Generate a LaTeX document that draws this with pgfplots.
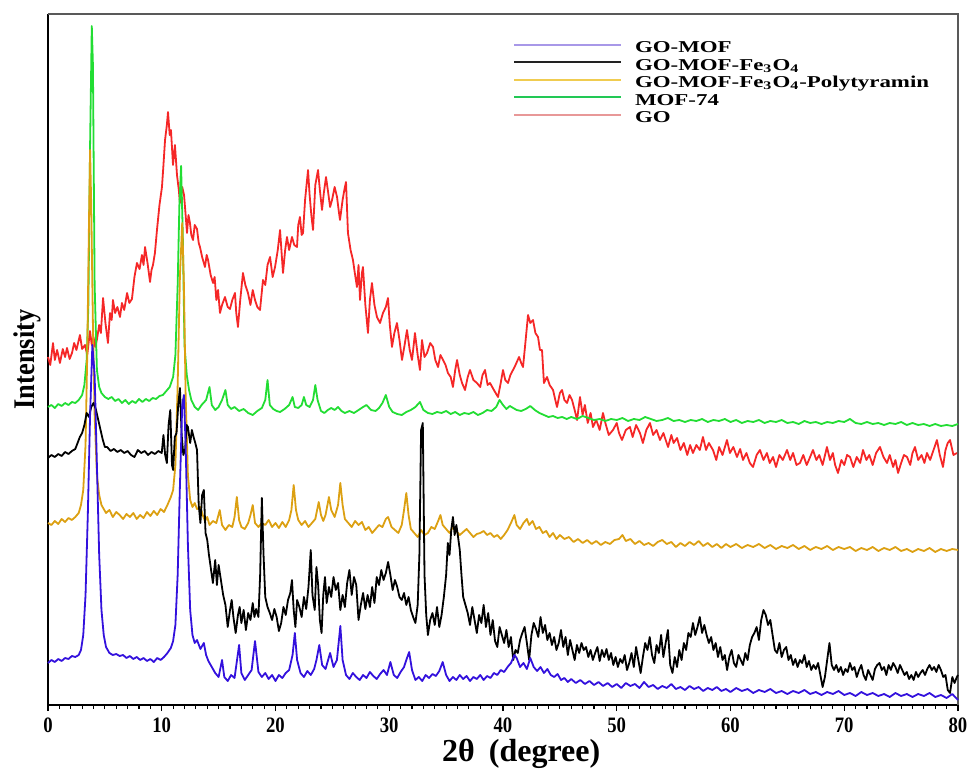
\documentclass[border=0pt]{standalone}
\usepackage{fontspec}
\setmainfont{Liberation Serif}
\newfontfamily\condfont{Liberation Serif}[FakeStretch=0.85]
\newfontfamily\ylfont{Liberation Serif}[FakeStretch=0.88]
\newfontfamily\legfont{Liberation Serif}[FakeStretch=1.38]
\usepackage{pgfplots}
\pgfplotsset{compat=1.18}
\definecolor{cblue}{HTML}{3311DD}
\definecolor{corange}{HTML}{DCA012}
\definecolor{cgreen}{HTML}{22DD33}
\definecolor{cred}{HTML}{F52727}
\definecolor{lblue}{HTML}{A898E8}
\definecolor{lblack}{HTML}{222222}
\definecolor{lorange}{HTML}{F0CC50}
\definecolor{lgreen}{HTML}{22C855}
\definecolor{lred}{HTML}{E89898}
\begin{document}
\begin{tikzpicture}
\path[use as bounding box] (-24pt,-33pt) rectangle (460.5pt,352.5pt);
\begin{axis}[
 scale only axis, width=455pt, height=345.5pt,
 xmin=0, xmax=80, ymin=0, ymax=691,
 clip=false,
 axis x line*=bottom, axis y line*=left,
 axis line style={black, line width=1pt},
 xtick={0,10,...,80}, minor x tick num=9, ytick=\empty,
 tick align=outside, major tick length=3pt, minor tick length=2pt,
 tick style={black, line width=0.6pt},
 xticklabel style={font=\condfont\bfseries\fontsize{11}{11}\selectfont},
 /pgf/number format/assume math mode=true,
 xlabel={2θ\hspace{7pt}(degree)}, ylabel={Intensity},
 xlabel style={font=\bfseries\fontsize{16}{16}\selectfont, at={(axis description cs:0.52,-0.07)}, anchor=center},
 ylabel style={font=\ylfont\bfseries\fontsize{15}{15}\selectfont, at={(axis description cs:-0.023,0.5)}, anchor=center},
 every axis plot/.append style={line join=round, line width=0.9pt},
 legend style={at={(0.511,0.9615)}, anchor=north west, draw=none, fill=none, inner sep=0pt, outer sep=0pt, row sep=0pt, column sep=6.5pt, font=\legfont\bfseries\fontsize{8.3}{8.3}\selectfont, nodes={inner sep=0pt, text height=6pt, text depth=2.75pt}, cells={anchor=west}},
 legend image code/.code={\draw[#1,line width=1pt] (0pt,2.2pt) -- (53.5pt,2.2pt);},
]
\draw[gray!70!black, line width=0.6pt] (rel axis cs:0,1) -- (rel axis cs:1,1) -- (rel axis cs:1,0);
% GO (red)
\addplot[cred, forget plot] table {
0 348
0.2 340
0.44 362
0.6 345
0.8 355
1.05 342
1.3 356
1.5 348
1.67 357
1.9 346
2.11 352
2.3 362
2.5 355
2.81 370
3.0 356
3.25 360
3.45 350
3.69 374
3.85 360
4.0 368
4.15 358
4.31 366
4.5 380
4.65 372
4.84 407
5.05 382
5.27 362
5.45 392
5.6 385
5.71 405
5.9 392
6.1 398
6.33 388
6.5 402
6.7 395
6.95 412
7.15 402
7.38 406
7.6 428
7.82 442
8.05 436
8.26 450
8.4 440
8.53 458
8.75 442
8.97 423
9.1 435
9.23 440
9.4 452
9.58 475
9.8 500
10.02 518
10.15 540
10.29 565
10.45 580
10.55 593
10.7 570
10.81 575
10.99 540
11.16 560
11.34 530
11.5 515
11.6 502
11.8 518
11.96 510
12.1 490
12.22 472
12.35 490
12.48 482
12.6 470
12.75 465
12.9 480
13.1 476
13.25 462
13.36 458
13.55 448
13.8 438
13.95 450
14.07 445
14.3 430
14.51 422
14.65 428
14.8 405
14.95 415
15.12 392
15.3 400
15.56 408
15.8 398
16.0 396
16.2 405
16.44 412
16.55 392
16.7 378
16.9 405
17.14 432
17.35 420
17.58 412
17.8 400
18.0 415
18.2 405
18.4 398
18.64 395
18.9 425
19.1 420
19.3 440
19.52 448
19.75 428
19.96 438
20.2 455
20.4 475
20.55 450
20.66 432
20.85 455
21.01 468
21.2 455
21.45 468
21.65 460
21.89 458
22.0 480
22.15 488
22.3 470
22.42 472
22.6 505
22.86 535
23.0 510
23.15 490
23.3 475
23.5 520
23.74 535
23.9 515
24.09 495
24.25 512
24.44 528
24.6 515
24.8 498
24.97 505
25.2 518
25.41 508
25.55 495
25.67 485
25.9 505
26.05 515
26.2 523
26.37 472
26.6 455
26.81 445
27.0 430
27.16 418
27.3 440
27.43 405
27.6 432
27.69 438
27.9 400
28.13 372
28.3 405
28.48 422
28.7 400
28.92 388
29.19 382
29.45 392
29.7 398
29.89 407
30.05 380
30.24 358
30.45 372
30.68 382
30.9 365
31.12 345
31.35 360
31.56 375
31.8 355
32.0 345
32.15 360
32.26 372
32.5 350
32.7 335
32.88 365
33.1 348
33.32 352
33.6 362
33.85 358
34.05 345
34.29 338
34.5 350
34.73 345
34.95 340
35.16 332
35.4 328
35.6 318
35.8 335
35.96 345
36.2 330
36.4 322
36.66 315
36.9 328
37.1 335
37.4 325
37.71 322
38.0 318
38.2 330
38.42 335
38.65 320
38.86 322
39.2 315
39.56 308
39.8 322
40.0 335
40.2 325
40.44 322
40.65 330
40.88 335
41.1 340
41.41 348
41.6 342
41.76 338
41.95 360
42.2 390
42.4 382
42.64 385
42.85 372
43.08 368
43.25 355
43.43 355
43.6 322
43.87 328
44.1 320
44.4 315
44.6 305
44.75 298
45.0 312
45.19 315
45.4 305
45.63 302
45.85 310
46.07 305
46.3 295
46.51 285
46.77 308
47.0 290
47.2 300
47.45 282
47.7 292
47.91 278
48.2 285
48.5 275
48.79 292
49.0 282
49.3 270
49.67 275
50.0 282
50.2 272
50.46 265
50.8 275
51.16 278
51.4 268
51.7 280
52.04 272
52.3 262
52.6 275
52.92 282
53.2 270
53.5 275
53.8 265
54.1 272
54.51 258
54.8 270
55.0 262
55.3 267
55.6 255
55.9 262
56.2 250
56.45 260
56.7 252
57.0 260
57.3 255
57.58 268
57.85 255
58.1 262
58.46 255
58.75 245
59.0 258
59.3 250
59.69 265
59.95 252
60.25 258
60.57 248
60.85 256
61.1 245
61.4 252
61.7 242
61.98 238
62.3 250
62.59 255
62.9 245
63.2 252
63.45 242
63.74 248
64.0 238
64.3 250
64.6 245
64.97 255
65.25 245
65.5 252
65.8 240
66.11 242
66.4 250
66.7 240
67.0 248
67.25 255
67.55 245
67.8 250
68.1 240
68.48 258
68.75 245
69.0 252
69.2 240
69.45 232
69.75 245
70.0 240
70.25 250
70.51 248
70.8 238
71.1 248
71.4 242
71.65 255
71.95 245
72.2 250
72.5 240
72.8 252
73.14 258
73.45 248
73.76 242
74.0 250
74.3 238
74.5 245
74.73 232
75.0 242
75.25 250
75.52 248
75.8 240
76.0 252
76.22 258
76.5 245
76.8 250
77.05 242
77.27 252
77.55 245
77.85 255
78.15 265
78.4 250
78.68 238
78.9 255
79.1 262
79.3 265
79.6 250
79.91 252
};
% MOF-74 (green)
\addplot[cgreen, forget plot] table {
0 298
0.3 300
0.6 297
0.9 301
1.2 299
1.5 302
1.8 300
2.1 303
2.4 302
2.7 305
3.0 310
3.2 320
3.4 345
3.55 400
3.7 560
3.85 679
3.95 640
4.1 420
4.3 335
4.5 318
4.7 312
5.0 308
5.3 306
5.6 308
5.9 304
6.2 306
6.5 302
6.8 305
7.1 301
7.4 304
7.7 302
8.0 306
8.3 303
8.6 306
8.9 304
9.2 307
9.5 306
9.8 309
10.1 310
10.4 314
10.7 318
11.0 328
11.2 350
11.4 420
11.55 500
11.7 539
11.85 470
12.0 360
12.2 330
12.4 315
12.6 305
12.9 298
13.2 295
13.5 300
13.9 305
14.2 318
14.4 300
14.7 295
15.0 298
15.3 305
15.6 315
15.8 300
16.1 296
16.4 298
16.8 294
17.2 296
17.6 292
18.0 290
18.4 294
18.8 297
19.1 305
19.3 325
19.5 300
19.8 296
20.1 294
20.4 293
20.8 296
21.2 300
21.5 308
21.7 298
22.0 297
22.3 300
22.5 308
22.7 300
23.0 298
23.3 305
23.5 320
23.7 305
24.0 294
24.3 292
24.6 295
24.9 297
25.2 295
25.5 298
25.8 294
26.1 292
26.5 294
26.9 292
27.3 295
27.7 298
28.0 300
28.4 295
28.8 294
29.1 297
29.4 302
29.7 310
30.0 298
30.3 293
30.7 291
31.1 290
31.5 293
31.9 295
32.3 298
32.7 303
33.0 295
33.4 292
33.8 291
34.2 293
34.6 292
35.0 294
35.4 291
35.8 293
36.2 290
36.6 292
37.0 291
37.4 293
37.8 290
38.2 292
38.6 295
39.0 294
39.4 298
39.7 305
40.0 300
40.3 296
40.6 299
40.9 297
41.2 295
41.6 294
42.0 296
42.4 299
42.8 295
43.2 292
43.6 290
44.0 288
44.4 289
44.8 287
45.2 288
45.6 286
46.0 288
46.5 286
47.0 289
47.5 287
48.0 285
48.5 286
49.0 284
49.5 286
50.0 285
50.5 287
51.0 284
51.5 286
52.0 285
52.5 288
53.0 286
53.5 284
54.0 285
54.5 287
55.0 284
55.5 285
56.0 283
56.5 285
57.0 284
57.5 286
58.0 283
58.5 285
59.0 284
59.5 286
60.0 283
60.5 285
61.0 282
61.5 284
62.0 283
62.5 285
63.0 282
63.5 284
64.0 283
64.5 285
65.0 282
65.5 283
66.0 281
66.5 284
67.0 282
67.5 283
68.0 281
68.5 283
69.0 282
69.5 284
70.0 283
70.5 286
71.0 282
71.5 281
72.0 283
72.5 281
73.0 282
73.5 280
74.0 282
74.5 281
75.0 283
75.5 280
76.0 282
76.5 280
77.0 281
77.5 279
78.0 281
78.5 279
79.0 280
79.5 279
80 281
};
% GO-MOF-Fe3O4-Polytyramin (orange)
\addplot[corange, forget plot] table {
0 182
0.3 180
0.6 184
0.9 181
1.2 186
1.5 183
1.8 187
2.1 185
2.4 188
2.7 192
2.9 200
3.1 215
3.3 260
3.45 350
3.6 480
3.7 555
3.8 500
3.95 380
4.1 290
4.3 230
4.5 210
4.7 200
4.9 196
5.1 192
5.4 195
5.7 188
6.0 193
6.3 190
6.6 186
6.9 191
7.2 188
7.5 192
7.8 186
8.1 190
8.4 187
8.7 193
9.0 189
9.3 194
9.6 190
9.9 196
10.2 193
10.5 200
10.8 208
11.0 215
11.2 240
11.4 320
11.6 430
11.8 482
11.95 420
12.1 310
12.3 230
12.5 205
12.7 198
12.9 202
13.1 196
13.4 198
13.6 190
13.8 184
14.0 188
14.2 180
14.5 184
14.8 182
15.1 195
15.3 180
15.6 175
15.9 180
16.2 178
16.4 188
16.6 208
16.8 185
17.0 178
17.3 176
17.6 182
17.8 190
18.0 200
18.2 182
18.5 178
18.8 182
19.1 180
19.4 185
19.7 178
20.0 182
20.3 177
20.6 183
20.9 178
21.2 185
21.4 195
21.6 220
21.8 195
22.0 185
22.3 180
22.6 184
22.9 178
23.2 182
23.5 186
23.8 203
24.0 190
24.2 184
24.4 190
24.7 208
24.9 195
25.2 188
25.5 200
25.7 222
25.9 200
26.1 186
26.4 182
26.7 178
27.0 184
27.3 180
27.6 183
27.9 175
28.2 178
28.5 172
28.8 176
29.1 180
29.4 178
29.7 186
29.9 188
30.2 178
30.5 175
30.8 172
31.1 180
31.3 195
31.5 212
31.7 190
31.9 176
32.2 172
32.5 168
32.8 175
33.1 170
33.4 172
33.7 178
34.0 176
34.3 184
34.5 190
34.7 180
35.0 176
35.3 172
35.6 178
35.9 174
36.2 170
36.5 173
36.8 176
37.1 172
37.4 168
37.7 171
38.0 172
38.3 174
38.6 170
38.9 172
39.2 168
39.5 170
39.8 166
40.1 170
40.4 175
40.7 182
41.0 190
41.2 180
41.5 176
41.8 182
42.1 186
42.3 180
42.6 184
42.9 176
43.2 178
43.5 172
43.8 174
44.1 168
44.4 172
44.7 166
45.0 170
45.4 166
45.8 168
46.2 163
46.6 166
47.0 162
47.4 165
47.8 161
48.2 164
48.6 160
49.0 163
49.4 161
49.8 165
50.2 166
50.5 170
50.8 164
51.2 166
51.6 161
52.0 164
52.4 160
52.8 162
53.2 159
53.6 163
54.0 165
54.4 161
54.8 163
55.2 158
55.6 162
56.0 159
56.4 163
56.8 160
57.2 164
57.6 159
58.0 162
58.4 158
58.8 161
59.2 157
59.6 161
60.0 158
60.5 161
61.0 157
61.5 160
62.0 158
62.5 161
63.0 157
63.5 160
64.0 156
64.5 159
65.0 157
65.5 160
66.0 156
66.5 159
67.0 155
67.5 158
68.0 156
68.5 159
69.0 155
69.5 158
70.0 156
70.5 158
71.0 154
71.5 157
72.0 155
72.5 158
73.0 154
73.5 157
74.0 155
74.5 158
75.0 154
75.5 156
76.0 153
76.5 156
77.0 154
77.5 157
78.0 153
78.5 156
79.0 154
79.5 156
80 155
};
% GO-MOF-Fe3O4 (black)
\addplot[black, forget plot] table {
0 247
0.3 250
0.6 248
0.9 251
1.2 249
1.5 253
1.8 251
2.1 254
2.4 256
2.6 262
2.8 268
3.0 272
3.2 280
3.4 292
3.6 288
3.8 298
4.0 302
4.2 296
4.4 286
4.6 276
4.8 266
5.0 258
5.2 258
5.5 254
5.8 256
6.1 253
6.4 255
6.7 252
7.0 254
7.3 250
7.6 248
7.9 255
8.2 252
8.5 254
8.8 250
9.1 253
9.4 251
9.7 254
10.0 252
10.15 270
10.3 250
10.45 242
10.6 280
10.75 295
10.9 240
11.0 235
11.15 268
11.3 272
11.45 300
11.6 317
11.75 270
11.9 250
12.05 255
12.2 280
12.3 278
12.5 262
12.65 275
12.8 268
12.95 262
13.1 255
13.25 200
13.4 182
13.55 210
13.7 215
13.85 172
14.0 165
14.15 150
14.3 138
14.5 122
14.7 145
14.85 120
15.0 140
15.2 125
15.4 110
15.6 100
15.8 78
16.0 95
16.15 105
16.3 88
16.5 72
16.7 90
16.85 98
17.0 82
17.2 95
17.4 75
17.6 92
17.8 85
18.0 102
18.15 88
18.3 96
18.5 88
18.65 130
18.8 207
18.95 150
19.1 108
19.3 98
19.5 92
19.7 85
19.9 96
20.1 88
20.3 74
20.5 82
20.7 98
20.9 90
21.1 105
21.3 112
21.45 125
21.6 95
21.75 78
21.9 105
22.1 98
22.3 88
22.5 108
22.7 96
22.9 118
23.1 155
23.25 110
23.45 95
23.6 138
23.75 120
23.9 85
24.05 72
24.2 110
24.35 128
24.5 102
24.7 118
24.9 108
25.1 128
25.3 115
25.5 122
25.7 95
25.9 110
26.1 98
26.3 122
26.5 135
26.7 110
26.9 128
27.1 120
27.3 85
27.5 100
27.7 112
27.9 96
28.1 110
28.3 98
28.5 118
28.7 102
28.9 128
29.1 120
29.3 135
29.5 125
29.7 132
29.9 143
30.1 130
30.3 115
30.5 125
30.7 118
30.9 108
31.1 105
31.3 112
31.5 100
31.7 108
31.9 95
32.1 88
32.3 82
32.5 100
32.65 150
32.8 275
32.95 282
33.1 130
33.25 90
33.4 70
33.6 85
33.8 92
34.0 80
34.2 98
34.4 78
34.6 90
34.8 108
35.0 130
35.15 162
35.3 150
35.45 175
35.6 188
35.75 170
35.9 180
36.05 168
36.2 155
36.35 130
36.5 108
36.7 100
36.9 92
37.1 80
37.3 98
37.5 85
37.7 72
37.9 90
38.1 82
38.3 100
38.5 78
38.7 92
38.9 70
39.1 85
39.3 64
39.5 58
39.7 78
39.9 70
40.1 62
40.3 75
40.5 58
40.7 68
40.9 45
41.1 55
41.3 52
41.5 65
41.7 72
41.9 78
42.1 62
42.3 45
42.5 70
42.7 82
42.9 76
43.1 68
43.3 88
43.5 72
43.7 80
43.9 65
44.1 72
44.3 60
44.5 68
44.7 55
44.9 62
45.1 75
45.3 58
45.5 68
45.7 50
45.9 65
46.1 55
46.3 45
46.5 60
46.7 52
46.9 62
47.1 55
47.3 58
47.5 48
47.7 55
47.9 45
48.1 52
48.3 58
48.5 44
48.7 55
48.9 48
49.1 56
49.3 45
49.5 52
49.7 40
49.9 48
50.1 38
50.3 46
50.5 42
50.7 50
50.9 35
51.1 42
51.3 52
51.5 38
51.7 58
51.9 45
52.1 32
52.3 48
52.5 62
52.7 55
52.9 68
53.1 50
53.3 42
53.5 60
53.7 52
53.9 70
54.1 48
54.3 62
54.5 75
54.7 40
54.9 32
55.1 48
55.3 38
55.5 55
55.7 45
55.9 62
56.1 55
56.3 72
56.5 68
56.7 82
56.9 70
57.1 78
57.3 88
57.5 72
57.7 80
57.9 70
58.1 62
58.3 68
58.5 55
58.7 62
58.9 48
59.1 58
59.3 45
59.5 50
59.7 35
59.9 48
60.1 55
60.3 42
60.5 38
60.7 50
60.9 45
61.1 40
61.3 52
61.5 45
61.7 60
61.9 68
62.1 72
62.3 78
62.5 65
62.7 85
62.9 95
63.1 90
63.3 80
63.5 85
63.7 70
63.9 55
64.1 52
64.3 62
64.5 48
64.7 55
64.9 58
65.1 45
65.3 50
65.5 40
65.7 46
65.9 38
66.1 45
66.3 42
66.5 50
66.7 38
66.9 44
67.1 35
67.3 40
67.5 36
67.7 42
67.9 30
68.1 18
68.3 28
68.5 45
68.7 62
68.9 40
69.1 35
69.3 40
69.5 33
69.7 38
69.9 30
70.1 36
70.3 33
70.5 42
70.7 35
70.9 38
71.1 28
71.3 35
71.5 40
71.7 30
71.9 25
72.1 35
72.3 30
72.5 25
72.7 36
72.9 40
73.1 42
73.3 35
73.5 38
73.7 30
73.9 40
74.1 35
74.3 42
74.5 38
74.7 32
74.9 40
75.1 35
75.3 30
75.5 33
75.7 26
75.9 30
76.1 25
76.3 33
76.5 28
76.7 32
76.9 35
77.1 30
77.3 36
77.5 40
77.7 35
77.9 38
78.1 33
78.3 40
78.5 35
78.7 28
78.9 30
79.1 15
79.3 12
79.5 28
79.7 22
79.9 28
80 30
};
% GO-MOF (blue)
\addplot[cblue, forget plot] table {
0 42
0.3 45
0.6 43
0.9 46
1.2 44
1.5 47
1.8 46
2.1 49
2.4 48
2.7 50
2.9 55
3.1 70
3.3 110
3.5 190
3.7 290
3.9 360
4.1 330
4.3 240
4.5 150
4.7 95
4.9 70
5.1 58
5.4 52
5.7 50
6.0 51
6.3 49
6.6 50
6.9 47
7.2 49
7.5 46
7.8 48
8.1 45
8.4 47
8.7 44
9.0 46
9.3 43
9.6 47
9.9 45
10.2 48
10.5 52
10.8 57
11.0 64
11.2 80
11.4 130
11.6 220
11.8 300
11.95 310
12.1 260
12.3 160
12.5 95
12.7 70
12.9 62
13.1 65
13.4 56
13.7 62
13.9 50
14.1 44
14.4 38
14.7 32
15.0 28
15.3 45
15.5 28
15.8 24
16.1 30
16.4 27
16.8 60
17.0 32
17.3 25
17.6 30
17.9 35
18.2 64
18.5 33
18.8 28
19.1 32
19.4 26
19.7 30
20.0 24
20.3 30
20.6 27
20.9 32
21.2 35
21.5 50
21.7 72
21.9 45
22.2 32
22.5 28
22.8 34
23.1 30
23.4 36
23.6 45
23.85 60
24.1 40
24.4 36
24.8 52
25.1 38
25.4 45
25.7 79
25.9 45
26.2 30
26.5 26
26.8 32
27.1 28
27.4 25
27.7 30
28.0 27
28.3 33
28.6 29
28.9 26
29.2 31
29.5 35
29.8 30
30.1 43
30.4 30
30.7 27
31.0 33
31.3 38
31.5 45
31.75 53
32.0 35
32.3 25
32.6 28
32.9 24
33.2 30
33.5 27
33.8 31
34.1 29
34.4 34
34.7 43
35.0 30
35.3 24
35.6 28
35.9 25
36.2 30
36.5 26
36.8 29
37.1 24
37.4 28
37.7 26
38.0 30
38.3 25
38.6 29
38.9 27
39.2 32
39.5 30
39.8 35
40.1 33
40.4 38
40.7 42
41.0 50
41.2 47
41.5 38
41.8 42
42.1 36
42.4 47
42.7 38
43.0 34
43.3 38
43.6 32
43.9 36
44.2 30
44.5 28
44.8 31
45.1 25
45.4 27
45.7 23
46.0 26
46.4 22
46.8 25
47.2 21
47.6 24
48.0 20
48.4 23
48.8 19
49.2 22
49.6 18
50.0 21
50.4 17
50.8 22
51.2 19
51.6 21
52.0 17
52.4 23
52.8 18
53.2 20
53.6 16
54.0 19
54.4 17
54.8 21
55.2 16
55.6 18
56.0 15
56.4 19
56.8 16
57.2 18
57.6 14
58.0 17
58.4 15
58.8 18
59.2 14
59.6 16
60.0 13
60.5 17
61.0 14
61.5 16
62.0 12
62.5 15
63.0 13
63.5 16
64.0 12
64.5 14
65.0 11
65.5 14
66.0 12
66.5 15
67.0 11
67.5 13
68.0 10
68.5 13
69.0 11
69.5 14
70.0 10
70.5 12
71.0 9
71.5 13
72.0 10
72.5 12
73.0 9
73.5 11
74.0 8
74.5 12
75.0 9
75.5 11
76.0 8
76.5 11
77.0 9
77.5 12
78.0 8
78.5 10
79.0 7
79.5 11
80 5
};
\addlegendimage{lblue}
\addlegendentry{GO-MOF}
\addlegendimage{lblack}
\addlegendentry{GO-MOF-Fe\textsubscript{3}O\textsubscript{4}}
\addlegendimage{lorange}
\addlegendentry{GO-MOF-Fe\textsubscript{3}O\textsubscript{4}-Polytyramin}
\addlegendimage{lgreen}
\addlegendentry{MOF-74}
\addlegendimage{lred}
\addlegendentry{GO}
\end{axis}
\end{tikzpicture}
\end{document}
